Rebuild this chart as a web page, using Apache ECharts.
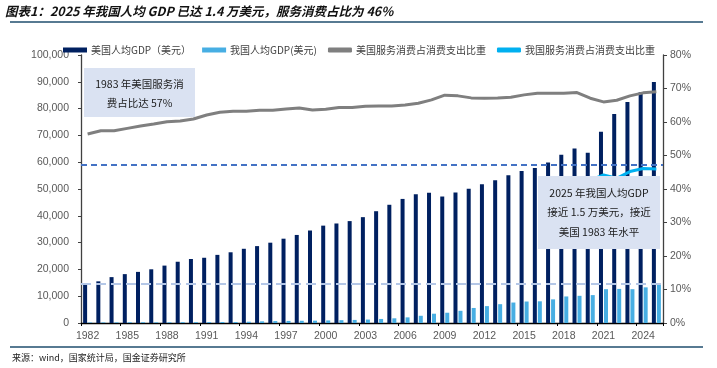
<!DOCTYPE html>
<html>
<head>
<meta charset="utf-8">
<script src="https://cdn.jsdelivr.net/npm/echarts@6/dist/echarts.min.js"></script>
<style>
html,body{margin:0;padding:0;background:#fff;}
#chart{width:717px;height:368px;}
</style>
</head>
<body>
<div id="chart"></div>
<script>
const years = ['1982','1983','1984','1985','1986','1987','1988','1989','1990','1991','1992','1993','1994','1995','1996','1997','1998','1999','2000','2001','2002','2003','2004','2005','2006','2007','2008','2009','2010','2011','2012','2013','2014','2015','2016','2017','2018','2019','2020','2021','2022','2023','2024','2025'];
const usGdp = [14434,15544,17121,18237,19071,20039,21417,22857,23889,24342,25419,26387,27695,28691,29968,31459,32854,34515,36330,37134,38023,39496,41713,44115,46299,48050,48570,47195,48651,50066,51784,53291,55124,56763,57867,59915,62805,65095,63528,71400,78000,82500,86100,89900];
const cnGdp = [203,225,250,294,282,252,284,311,318,333,366,377,473,610,709,782,829,873,959,1053,1149,1289,1509,1753,2099,2694,3468,3832,4550,5614,6301,7020,7636,8016,8094,8817,9905,10144,10409,12618,12720,12614,13300,14200];
const usSvc = [56.4,57.4,57.4,58.1,58.8,59.4,60.1,60.3,60.9,62.1,62.9,63.2,63.2,63.5,63.5,63.9,64.2,63.6,63.8,64.3,64.3,64.7,64.8,64.8,65.1,65.6,66.6,68.0,67.8,67.2,67.1,67.2,67.4,68.1,68.6,68.6,68.6,68.8,67.1,66.0,66.5,67.8,68.7,69.0];
const cnSvc = [null,null,null,null,null,null,null,null,null,null,null,null,null,null,null,null,null,null,null,null,null,null,null,null,null,null,null,null,null,null,null,null,null,null,null,null,null,null,42.6,44.2,43.2,45.2,46.1,46.0];
const leftTicks = {min:0, max:100000, interval:10000};
const rightTicks = {min:0, max:80, interval:10};
const refGdp = 14500;
const refSvc = 47.2;
const names = ['美国人均GDP（美元）','我国人均GDP(美元)','美国服务消费占消费支出比重','我国服务消费占消费支出比重'];

const chart = echarts.init(document.getElementById('chart'), null, {renderer:'canvas'});
const labelFont = {fontFamily:'Liberation Sans, Arial, sans-serif', fontSize:10.5, color:'#595959'};
const cjk = '"Noto Sans CJK SC", sans-serif';
chart.setOption({
  animation:false,
  backgroundColor:'#fff',
  grid:{left:81, right:54, top:55, bottom:45, containLabel:false},
  legend:{
    left:58, top:40, itemWidth:24, itemHeight:5, itemGap:11,
    textStyle:{fontFamily:cjk, fontSize:10, color:'#404040', padding:[0,0,0,-1]},
    data:[
      {name:names[0], icon:'rect'},
      {name:names[1], icon:'rect'},
      {name:names[2], icon:'roundRect', itemStyle:{color:'#7F7F7F'}},
      {name:names[3], icon:'roundRect', itemStyle:{color:'#00B0F0'}}
    ]
  },
  xAxis:{
    type:'category', data:years, boundaryGap:true,
    axisLine:{lineStyle:{color:'#000', width:1.3}},
    axisTick:{show:true, interval:2, length:3, lineStyle:{color:'#000'}},
    axisLabel:Object.assign({interval:2, margin:8}, labelFont)
  },
  yAxis:[
    {type:'value', min:leftTicks.min, max:leftTicks.max, interval:leftTicks.interval,
     splitLine:{show:false},
     axisLine:{show:true, lineStyle:{color:'#404040', width:1.3}},
     axisTick:{show:true, length:3, lineStyle:{color:'#404040'}},
     axisLabel:Object.assign({margin:12, formatter:v=>v.toLocaleString('en-US')}, labelFont)},
    {type:'value', min:rightTicks.min, max:rightTicks.max, interval:rightTicks.interval,
     position:'right', splitLine:{show:false},
     axisLine:{show:true, lineStyle:{color:'#404040', width:1.3}},
     axisTick:{show:true, length:4, lineStyle:{color:'#404040'}},
     axisLabel:Object.assign({margin:7, formatter:'{value}%'}, labelFont)}
  ],
  series:[
    {name:names[0], type:'bar', data:usGdp, barWidth:4, barGap:'25%',
     itemStyle:{color:'#002060'},
     markLine:{silent:true, symbol:'none', label:{show:false},
       lineStyle:{color:'#B4C7E7', type:[10,5], width:2},
       data:[{yAxis:refGdp}]}},
    {name:names[1], type:'bar', data:cnGdp, barWidth:4,
     itemStyle:{color:'#47AEE3'}},
    {name:names[2], type:'line', yAxisIndex:1, data:usSvc, symbol:'none',
     lineStyle:{color:'#7F7F7F', width:3}, itemStyle:{color:'#7F7F7F'}, z:5,
     markLine:{silent:true, symbol:'none', label:{show:false},
       lineStyle:{color:'#4472C4', type:[6,4], width:2},
       data:[{yAxis:refSvc}]}},
    {name:names[3], type:'line', yAxisIndex:1, data:cnSvc, symbol:'none',
     lineStyle:{color:'#00B0F0', width:3}, itemStyle:{color:'#00B0F0'}, z:5}
  ],
  graphic:[
    {type:'text', z:100, left:5, top:5,
     style:{text:'图表1：2025 年我国人均 GDP 已达 1.4 万美元，服务消费占比为 46%',
       font:'italic bold 12.5px "Noto Sans CJK SC", sans-serif', fill:'#111'}},
    {type:'line', z:100, shape:{x1:10, y1:22, x2:703, y2:22}, style:{stroke:'#1F4E6E', lineWidth:1.5}},
    {type:'line', z:100, shape:{x1:10, y1:347, x2:703, y2:347}, style:{stroke:'#1F4E6E', lineWidth:1.5}},
    {type:'text', z:100, left:12, top:353,
     style:{text:'来源：wind，国家统计局，国金证券研究所', font:'9px "Noto Sans CJK SC", sans-serif', fill:'#222'}},
    {type:'rect', z:100, shape:{x:84, y:68, width:111, height:49}, style:{fill:'#DAE2F2'}},
    {type:'text', z:101, x:139.5, y:84.3, style:{text:'1983 年美国服务消', font:'10.5px "Noto Sans CJK SC", sans-serif', fill:'#1a1a1a', textAlign:'center', textVerticalAlign:'middle'}},
    {type:'text', z:101, x:139.5, y:103.3, style:{text:'费占比达 57%', font:'10.5px "Noto Sans CJK SC", sans-serif', fill:'#1a1a1a', textAlign:'center', textVerticalAlign:'middle'}},
    {type:'rect', z:100, shape:{x:538, y:176, width:122, height:73}, style:{fill:'#DAE2F2'}},
    {type:'text', z:101, x:599, y:192.7, style:{text:'2025 年我国人均GDP', font:'10.5px "Noto Sans CJK SC", sans-serif', fill:'#1a1a1a', textAlign:'center', textVerticalAlign:'middle'}},
    {type:'text', z:101, x:599, y:212.3, style:{text:'接近 1.5 万美元，接近', font:'10.5px "Noto Sans CJK SC", sans-serif', fill:'#1a1a1a', textAlign:'center', textVerticalAlign:'middle'}},
    {type:'text', z:101, x:599, y:231.7, style:{text:'美国 1983 年水平', font:'10.5px "Noto Sans CJK SC", sans-serif', fill:'#1a1a1a', textAlign:'center', textVerticalAlign:'middle'}}
  ]
});
</script>
</body>
</html>
